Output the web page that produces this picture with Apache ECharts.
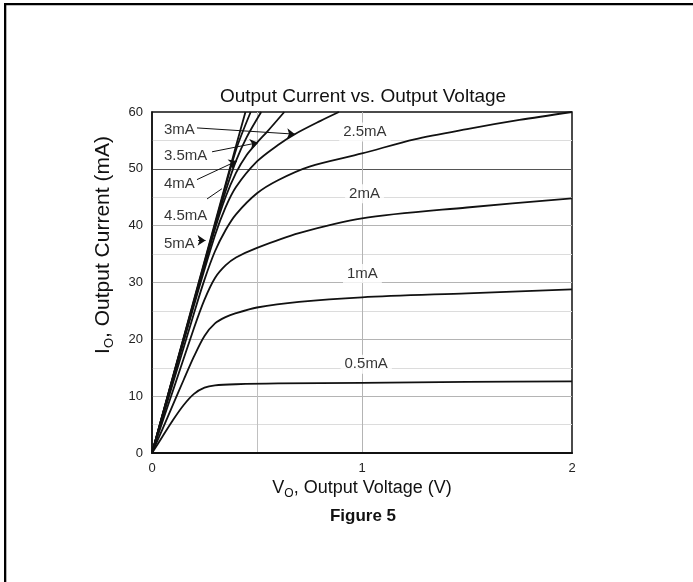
<!DOCTYPE html>
<html><head><meta charset="utf-8">
<script src="https://cdn.jsdelivr.net/npm/echarts@6/dist/echarts.min.js"></script>
<style>html,body{margin:0;padding:0;background:#fff}#c{width:693px;height:582px}</style>
</head><body><div id="c"></div>
<script>
const FONT = 'Liberation Sans, Arial, Helvetica, sans-serif';

// Tick labels shown on the axes
const xTickLabels = [0, 1, 2];
const yTickLabels = [0, 10, 20, 30, 40, 50, 60];

// Curve names (input current) and their [V, I] points
const curveNames = ['0.5mA', '1mA', '2mA', '2.5mA', '3mA', '3.5mA', '4mA', '4.5mA', '5mA'];
const curve_0p5mA = [[0,0],[0.05,2.9],[0.1,5.8],[0.15,8.4],[0.2,10.4],[0.25,11.5],[0.3,11.9],[0.4,12.1],[0.6,12.25],[1,12.35],[1.5,12.5],[2,12.6]];
const curve_1mA   = [[0,0],[0.05,4.2],[0.1,8.5],[0.15,12.8],[0.2,17],[0.25,20.6],[0.3,22.8],[0.35,23.9],[0.4,24.6],[0.5,25.6],[0.7,26.6],[1,27.4],[1.5,28.1],[2,28.8]];
const curve_2mA   = [[0,0],[0.1,11],[0.2,22],[0.25,27],[0.3,30.8],[0.35,33],[0.4,34.4],[0.5,36.1],[0.7,38.7],[1,41.3],[1.5,43.2],[2,44.8]];
const curve_2p5mA = [[0,0],[0.1,12.3],[0.2,24.6],[0.25,30.5],[0.3,35.5],[0.35,39.2],[0.4,42],[0.5,45.7],[0.6,48],[0.75,50.4],[1,52.7],[1.25,55.2],[1.5,57],[1.75,58.6],[2,60]];
const curve_3mA   = [[0,0],[0.1,13],[0.2,26],[0.3,38.3],[0.35,43.2],[0.4,46.8],[0.5,51.3],[0.6,54.2],[0.68,56.1],[0.8,58.4],[0.89,60]];
const curve_3p5mA = [[0,0],[0.1,13.2],[0.2,26.4],[0.3,39.4],[0.35,45],[0.4,49.3],[0.45,52.4],[0.5,54.6],[0.55,56.6],[0.63,60]];
const curve_4mA   = [[0,0],[0.1,13.3],[0.2,26.6],[0.3,39.8],[0.35,46],[0.4,51.4],[0.45,55.5],[0.52,60]];
const curve_4p5mA = [[0,0],[0.1,13.4],[0.2,26.8],[0.3,40.2],[0.4,53.3],[0.47,60]];
const curve_5mA   = [[0,0],[0.1,13.5],[0.2,27],[0.3,40.5],[0.4,54],[0.445,60]];
const curves = [curve_0p5mA, curve_1mA, curve_2mA, curve_2p5mA, curve_3mA, curve_3p5mA, curve_4mA, curve_4p5mA, curve_5mA];

// Annotation labels in data units [text, V, I]
const leftLabels  = [['3mA',0.045,56.8],['3.5mA',0.045,52.3],['4mA',0.045,47.4],['4.5mA',0.045,41.8],['5mA',0.045,36.8]];
const rightLabels = [['2.5mA',1.014,56.5],['2mA',1.012,45.6],['1mA',1.002,31.6],['0.5mA',1.02,15.6]];
// Pointer lines in data units [V1, I1, V2, I2]
const arrowLines  = [[0.214,57.2,0.681,56.1],[0.286,53.0,0.505,54.6],[0.214,48.1,0.405,51.4],[0.219,37.4,0.255,37.4]];
const leaderLines = [[0.262,44.7,0.333,46.5]];

const chart = echarts.init(document.getElementById('c'), null, {renderer: 'canvas'});

const ySplitColors = [];
for (let v = 0; v <= 60; v += 5) {
  if (v === 0 || v === 60) ySplitColors.push('rgba(0,0,0,0)');
  else if (v === 50) ySplitColors.push('#555');
  else if (v % 10 === 0) ySplitColors.push('#b4b4b4');
  else ySplitColors.push('#dcdcdc');
}
const xSplitColors = ['rgba(0,0,0,0)', '#c0c0c0', '#b4b4b4', 'rgba(0,0,0,0)', 'rgba(0,0,0,0)'];

const series = curves.map((pts, k) => ({
  name: curveNames[k],
  type: 'line',
  data: pts,
  smooth: 0.3,
  showSymbol: false,
  symbol: 'none',
  clip: true,
  z: 3,
  lineStyle: {color: '#111', width: 1.8},
  silent: true
}));

function lineData(arr) {
  return arr.map(a => [{coord: [a[0], a[1]]}, {coord: [a[2], a[3]]}]);
}
series.push({
  type: 'line', data: [[0, 0]], z: 4, silent: true, symbol: 'none', showSymbol: false,
  lineStyle: {width: 0},
  markLine: {
    silent: true, symbol: ['none', 'arrow'], symbolSize: 8,
    label: {show: false}, animation: false,
    itemStyle: {color: '#111'},
    lineStyle: {color: '#111', width: 1, type: 'solid'},
    data: lineData(arrowLines)
  }
});
series.push({
  type: 'line', data: [[0, 0]], z: 4, silent: true, symbol: 'none', showSymbol: false,
  lineStyle: {width: 0},
  markLine: {
    silent: true, symbol: ['none', 'none'],
    label: {show: false}, animation: false,
    lineStyle: {color: '#111', width: 1, type: 'solid'},
    data: lineData(leaderLines)
  }
});
series.push({
  type: 'scatter', z: 5, silent: true, symbolSize: 1,
  itemStyle: {color: 'rgba(0,0,0,0)'},
  data: leftLabels.map(l => ({value: [l[1], l[2]], name: l[0]})),
  label: {show: true, position: 'right', distance: 0, formatter: p => p.name,
    color: '#000', fontSize: 15, fontFamily: FONT, backgroundColor: '#fff', padding: [1, 2]}
});
series.push({
  type: 'scatter', z: 5, silent: true, symbolSize: 1,
  itemStyle: {color: 'rgba(0,0,0,0)'},
  data: rightLabels.map(l => ({value: [l[1], l[2]], name: l[0]})),
  label: {show: true, position: 'inside', formatter: p => p.name,
    color: '#000', fontSize: 15, fontFamily: FONT, backgroundColor: '#fff', padding: [1, 4, 3, 4]}
});

const option = {
  animation: false,
  backgroundColor: '#fff',
  grid: {left: 152, right: 121, top: 112, bottom: 129, show: true, borderColor: '#111', borderWidth: 1.5, backgroundColor: 'rgba(0,0,0,0)'},
  xAxis: {
    type: 'value', min: 0, max: 2, interval: 0.5,
    axisLine: {show: true, lineStyle: {color: '#111', width: 2}},
    axisTick: {show: false},
    axisLabel: {color: '#222', fontSize: 13, fontFamily: FONT, margin: 9,
      formatter: v => (xTickLabels.indexOf(v) >= 0 ? String(v) : '')},
    splitLine: {show: true, lineStyle: {color: xSplitColors, width: 1}}
  },
  yAxis: {
    type: 'value', min: 0, max: 60, interval: 5,
    axisLine: {show: true, lineStyle: {color: '#111', width: 1.5}},
    axisTick: {show: false},
    axisLabel: {color: '#222', fontSize: 13, fontFamily: FONT, margin: 9,
      formatter: v => (yTickLabels.indexOf(v) >= 0 ? String(v) : '')},
    splitLine: {show: true, lineStyle: {color: ySplitColors, width: 1}}
  },
  graphic: [
    {type: 'rect', shape: {x: 4, y: 3, width: 689, height: 2.2}, style: {fill: '#000'}, silent: true},
    {type: 'rect', shape: {x: 4, y: 3, width: 2.3, height: 579}, style: {fill: '#000'}, silent: true},
    {type: 'text', x: 363, y: 97, silent: true,
      style: {text: 'Output Current vs. Output Voltage', fill: '#111', font: '19px ' + FONT, align: 'center', verticalAlign: 'middle'}},
    {type: 'text', x: 362, y: 488, silent: true,
      style: {text: '{a|V}{s|O}{a|, Output Voltage (V)}', align: 'center', verticalAlign: 'middle',
        rich: {a: {fontSize: 18, fontFamily: FONT, fill: '#111', lineHeight: 24, verticalAlign: 'middle'},
               s: {fontSize: 12, fontFamily: FONT, fill: '#111', lineHeight: 12, verticalAlign: 'bottom'}}}},
    {type: 'text', x: 363, y: 516, silent: true,
      style: {text: 'Figure 5', fill: '#111', font: 'bold 17px ' + FONT, align: 'center', verticalAlign: 'middle'}},
    {type: 'text', x: 103, y: 245, rotation: Math.PI / 2, silent: true,
      style: {text: '{a|I}{s|O}{a|, Output Current (mA)}', align: 'center', verticalAlign: 'middle',
        rich: {a: {fontSize: 21, fontFamily: FONT, fill: '#111', lineHeight: 26, verticalAlign: 'middle'},
               s: {fontSize: 13, fontFamily: FONT, fill: '#111', lineHeight: 13, verticalAlign: 'bottom'}}}}
  ],
  series: series
};
chart.setOption(option);
</script>
</body></html>
